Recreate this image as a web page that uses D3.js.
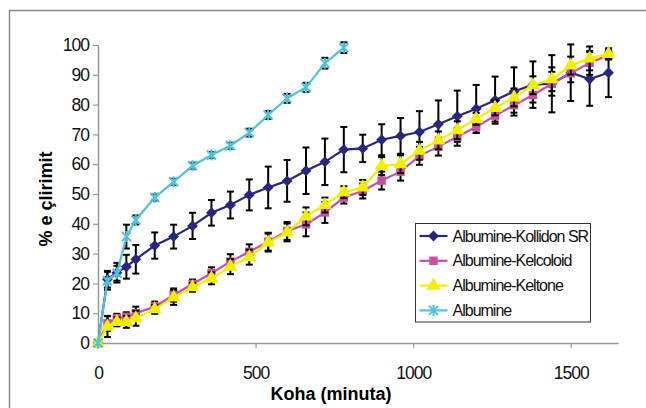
<!DOCTYPE html>
<html>
<head>
<meta charset="utf-8">
<script src="https://cdn.jsdelivr.net/npm/d3@7"></script>
<style>
  body { margin: 0; background: #fff; }
  svg text { font-family: "Liberation Sans", Arial, sans-serif; }
</style>
</head>
<body>
<div id="chart"></div>
<script>
// ---- DATA ----
var times = [0, 30, 60, 90, 120, 180, 240, 300, 360, 420, 480, 540, 600, 660, 720, 780,
             840, 900, 960, 1020, 1080, 1140, 1200, 1260, 1320, 1380, 1440, 1500, 1560, 1620];

var kollidon    = [0, 21.4, 23.6, 25.6, 28.1, 32.7, 35.7, 39.3, 43.7, 46.3, 49.7, 52.2, 54.4, 57.8, 60.8, 64.9,
                   65.3, 68.2, 69.5, 70.8, 73.4, 76.1, 78.6, 81.5, 84.4, 86.7, 87.0, 90.7, 88.6, 90.7];
var kollidonErr = [0, 2.8, 3.3, 4.0, 4.8, 4.4, 4.0, 4.4, 4.3, 4.5, 5.2, 7.0, 7.0, 7.8, 7.8, 7.6,
                   4.6, 5.2, 6.0, 7.0, 8.0, 8.6, 8.0, 7.9, 8.1, 7.8, 9.6, 9.5, 9.0, 8.2];

var kelcoloid    = [0, 6.6, 8.3, 8.8, 10.0, 12.2, 16.1, 19.8, 23.4, 27.3, 30.6, 34.0, 37.6, 39.8, 43.8, 48.8,
                    51.0, 54.5, 57.5, 62.8, 65.9, 69.2, 72.5, 76.3, 79.8, 83.2, 87.0, 90.5, 94.0, 96.6];
var kelcoloidErr = [0, 2.5, 1.5, 1.5, 2.2, 1.7, 2.2, 1.5, 2.0, 2.5, 2.5, 3.0, 3.0, 4.0, 3.5, 2.0,
                    2.5, 3.0, 3.0, 3.0, 3.0, 3.0, 2.0, 2.0, 2.5, 2.5, 4.0, 3.0, 4.0, 1.5];

var keltone    = [0, 5.5, 7.1, 7.1, 8.3, 11.3, 15.3, 18.7, 21.7, 25.6, 28.8, 33.7, 37.1, 42.5, 46.3, 50.6,
                  52.2, 59.4, 60.0, 64.5, 68.0, 71.4, 75.2, 78.9, 82.4, 86.5, 88.5, 93.1, 95.5, 97.0];
var keltoneErr = [0, 3.5, 1.5, 2.0, 2.5, 1.5, 2.5, 1.5, 2.0, 2.5, 2.5, 3.0, 3.0, 3.0, 2.5, 2.0,
                  2.5, 3.0, 3.0, 3.0, 3.0, 3.0, 2.0, 2.5, 3.0, 3.0, 4.0, 3.0, 4.0, 1.5];

var albumine    = [0, 20.9, 23.4, 35.7, 41.3, 48.8, 54.1, 59.5, 63.1, 66.2, 70.6, 76.5, 82.1, 85.8, 93.9, 99.1];
var albumineErr = [0, 3.0, 2.5, 4.0, 1.5, 1.0, 1.0, 1.0, 1.0, 1.0, 1.3, 1.3, 1.5, 1.5, 1.8, 1.8];

var seriesNames = ["Albumine-Kollidon SR", "Albumine-Kelcoloid", "Albumine-Keltone", "Albumine"];
var xTicks = [0, 500, 1000, 1500];
var yTicks = [0, 10, 20, 30, 40, 50, 60, 70, 80, 90, 100];

// ---- LAYOUT ----
var width = 646, height = 408;
var svg = d3.select("#chart").append("svg")
    .attr("width", width)
    .attr("height", height);

svg.append("rect").attr("width", width).attr("height", height).attr("fill", "#fff");

// outer chart frame (right / bottom edges fall outside the picture)
svg.append("rect")
    .attr("x", 9.5).attr("y", 10.5)
    .attr("width", 700).attr("height", 500)
    .attr("fill", "none")
    .attr("stroke", "#8a8a8a")
    .attr("stroke-width", 1.5);

var xScale = d3.scaleLinear().domain([0, 1650]).range([98, 618]);
var yScale = d3.scaleLinear().domain([0, 100]).range([343, 45]);

// axes
var yAxis = d3.axisLeft(yScale).tickValues(yTicks).tickSize(5).tickSizeOuter(0).tickPadding(4)
    .tickFormat(d3.format("d"));
var xAxis = d3.axisBottom(xScale).tickValues(xTicks).tickSize(5).tickSizeOuter(0).tickPadding(19)
    .tickFormat(d3.format("d"));

var gy = svg.append("g").attr("transform", "translate(" + xScale(0) + ",0)").call(yAxis);
var gx = svg.append("g").attr("transform", "translate(0," + yScale(0) + ")").call(xAxis);

[gx, gy].forEach(function (g) {
    g.select(".domain").attr("stroke", "#999").attr("stroke-width", 1.5);
    g.selectAll(".tick line").attr("stroke", "#999").attr("stroke-width", 1.2);
    g.selectAll(".tick text")
        .attr("fill", "#111")
        .style("font-size", "17.5px")
        .style("letter-spacing", "-1px")
        .style("font-family", "'Liberation Sans', Arial, sans-serif");
});

// axis titles
svg.append("text")
    .attr("x", 331).attr("y", 400)
    .attr("text-anchor", "middle")
    .style("font-size", "18px").style("font-weight", "bold")
    .text("Koha (minuta)");

svg.append("text")
    .attr("transform", "translate(52,199) rotate(-90)")
    .attr("text-anchor", "middle")
    .style("font-size", "18px").style("font-weight", "bold")
    .text("% e çlirimit");

// ---- SERIES ----
var colors = ["#27277f", "#c9509f", "#f2ee00", "#50c3da"];
var symbols = [d3.symbolDiamond2, d3.symbolSquare, d3.symbolTriangle, "star"];

function makeSeries(vals, errs) {
    return vals.map(function (v, i) { return { t: times[i], v: v, e: errs[i] }; });
}

var series = [
    { name: seriesNames[0], data: makeSeries(kollidon, kollidonErr), color: colors[0], sym: symbols[0], size: 75 },
    { name: seriesNames[1], data: makeSeries(kelcoloid, kelcoloidErr), color: colors[1], sym: symbols[1], size: 72 },
    { name: seriesNames[2], data: makeSeries(keltone, keltoneErr), color: colors[2], sym: symbols[2], size: 85 },
    { name: seriesNames[3], data: makeSeries(albumine, albumineErr), color: colors[3], sym: symbols[3], size: 60 }
];

var line = d3.line()
    .x(function (d) { return xScale(d.t); })
    .y(function (d) { return yScale(d.v); });

function drawMarker(g, sym, size, color, x, y) {
    if (sym === "star") {
        var r = 4.5;
        g.append("path")
            .attr("d", "M" + (x - r) + "," + (y - r) + "L" + (x + r) + "," + (y + r) +
                       "M" + (x - r) + "," + (y + r) + "L" + (x + r) + "," + (y - r) +
                       "M" + x + "," + (y - r - 1) + "L" + x + "," + (y + r + 1))
            .attr("stroke", color).attr("stroke-width", 2).attr("fill", "none");
    } else {
        g.append("path")
            .attr("d", d3.symbol().type(sym).size(size)())
            .attr("transform", "translate(" + x + "," + y + ")")
            .attr("fill", color);
    }
}

series.forEach(function (s) {
    var g = svg.append("g");
    var cap = 3.5;

    // error bars
    var eb = g.selectAll("g.eb").data(s.data.filter(function (d) { return d.e > 0; }))
        .enter().append("g").attr("stroke", "#000").attr("stroke-width", 2);
    eb.append("line")
        .attr("x1", function (d) { return xScale(d.t); })
        .attr("x2", function (d) { return xScale(d.t); })
        .attr("y1", function (d) { return yScale(d.v + d.e); })
        .attr("y2", function (d) { return yScale(d.v - d.e); });
    eb.append("line")
        .attr("x1", function (d) { return xScale(d.t) - cap; })
        .attr("x2", function (d) { return xScale(d.t) + cap; })
        .attr("y1", function (d) { return yScale(d.v + d.e); })
        .attr("y2", function (d) { return yScale(d.v + d.e); });
    eb.append("line")
        .attr("x1", function (d) { return xScale(d.t) - cap; })
        .attr("x2", function (d) { return xScale(d.t) + cap; })
        .attr("y1", function (d) { return yScale(d.v - d.e); })
        .attr("y2", function (d) { return yScale(d.v - d.e); });

    g.append("path")
        .datum(s.data)
        .attr("d", line)
        .attr("fill", "none")
        .attr("stroke", s.color)
        .attr("stroke-width", 2.2);

    s.data.forEach(function (d) {
        drawMarker(g, s.sym, s.size, s.color, xScale(d.t), yScale(d.v));
    });
});

// ---- LEGEND ----
var legend = svg.append("g").attr("transform", "translate(415.5,223.5)");
legend.append("rect")
    .attr("width", 175).attr("height", 98.5)
    .attr("fill", "#fff")
    .attr("stroke", "#333").attr("stroke-width", 1);

series.forEach(function (s, i) {
    var y = 12.5 + i * 24.8;
    legend.append("line")
        .attr("x1", 4).attr("x2", 32).attr("y1", y).attr("y2", y)
        .attr("stroke", s.color).attr("stroke-width", 2.2);
    drawMarker(legend, s.sym, s.size, s.color, 18, y);
    legend.append("text")
        .attr("x", 37).attr("y", y + 5.5)
        .style("font-size", "16px")
        .style("letter-spacing", "-1px")
        .attr("fill", "#111")
        .text(s.name);
});
</script>
</body>
</html>
